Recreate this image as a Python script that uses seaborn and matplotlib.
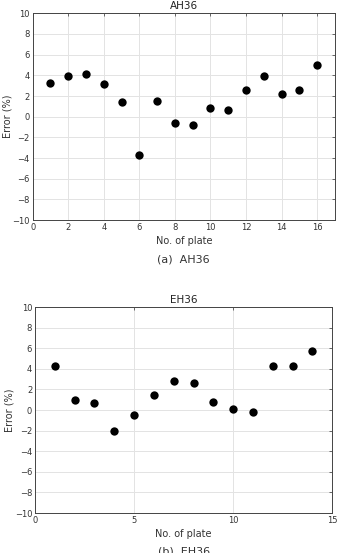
import matplotlib
matplotlib.use('Agg')
import matplotlib.pyplot as plt
import seaborn as sns
import pandas as pd

# values
plate_ah = list(range(1, 17))
error_ah = [3.3, 3.9, 4.1, 3.2, 1.4, -3.7, 1.5, -0.6, -0.8, 0.8, 0.6, 2.6, 3.9, 2.2, 2.6, 5.0]
plate_eh = list(range(1, 15))
error_eh = [4.3, 1.0, 0.7, -2.0, -0.5, 1.5, 2.8, 2.6, 0.8, 0.1, -0.2, 4.3, 4.3, 5.7]

yticks = list(range(-10, 11, 2))
xticks_ah = list(range(0, 17, 2))
xticks_eh = [0, 5, 10, 15]

sns.set_style('white')
plt.rcParams['font.family'] = ['DejaVu Sans']

fig = plt.figure(figsize=(3.4, 5.53), dpi=100)


def panel(rect, x, y, xticks, xmax, title, caption, cap_y):
    ax = fig.add_axes(rect)
    df = pd.DataFrame({'plate': x, 'err': y})
    sns.scatterplot(data=df, x='plate', y='err', ax=ax, color='black', s=36,
                    edgecolor='black', linewidth=0, zorder=3)
    ax.set_xlim(0, xmax)
    ax.set_ylim(-10, 10)
    ax.set_xticks(xticks)
    ax.set_yticks(yticks)
    ax.grid(True, color='#e3e3e3', linewidth=0.7, zorder=0)
    ax.tick_params(direction='in', top=True, right=True, length=2.5, width=0.5,
                   labelsize=6, colors='#333333', pad=2)
    for s in ax.spines.values():
        s.set_color('#444444')
        s.set_linewidth(0.7)
    ax.set_xlabel('No. of plate', fontsize=7, color='#333333', labelpad=3)
    ax.set_ylabel('Error (%)', fontsize=7, color='#333333', labelpad=0)
    ax.set_title(title, fontsize=7.5, color='#222222', pad=3)
    ax.text(0.5, cap_y, caption, transform=ax.transAxes, ha='center', va='center',
            fontsize=8, color='#333333')
    return ax


panel([0.096, 0.602, 0.889, 0.374], plate_ah, error_ah, xticks_ah, 17, 'AH36', '(a)  AH36', -0.19)
panel([0.103, 0.0723, 0.874, 0.3725], plate_eh, error_eh, xticks_eh, 15, 'EH36', '(b)  EH36', -0.185)

fig.savefig('out.png', dpi=100)
